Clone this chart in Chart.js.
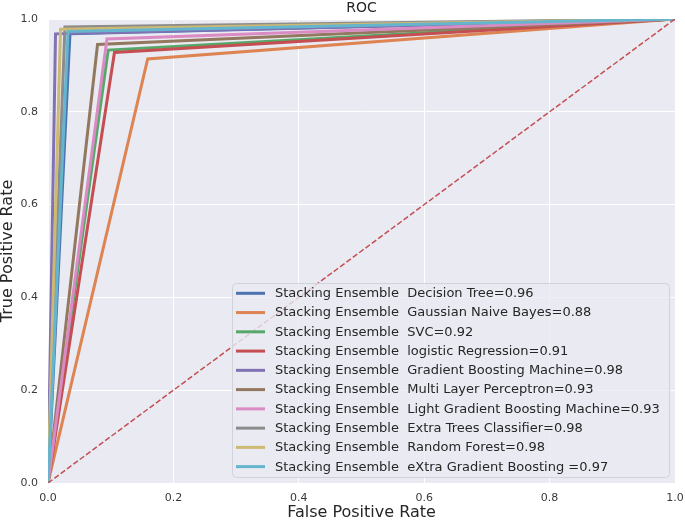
<!DOCTYPE html>
<html>
<head>
<meta charset="utf-8">
<script src="https://cdn.jsdelivr.net/npm/chart.js@4.4.1/dist/chart.umd.min.js"></script>
<style>
  html, body { margin: 0; padding: 0; background: #ffffff; }
  #wrap { width: 685px; height: 524px; }
</style>
</head>
<body>
<div id="wrap"><canvas id="c" width="685" height="524"></canvas></div>
<script>
// ---- data ----
const seriesLabels = [
  "Stacking Ensemble  Decision Tree=0.96",
  "Stacking Ensemble  Gaussian Naive Bayes=0.88",
  "Stacking Ensemble  SVC=0.92",
  "Stacking Ensemble  logistic Regression=0.91",
  "Stacking Ensemble  Gradient Boosting Machine=0.98",
  "Stacking Ensemble  Multi Layer Perceptron=0.93",
  "Stacking Ensemble  Light Gradient Boosting Machine=0.93",
  "Stacking Ensemble  Extra Trees Classifier=0.98",
  "Stacking Ensemble  Random Forest=0.98",
  "Stacking Ensemble  eXtra Gradient Boosting =0.97"
];
// each ROC curve: (0,0) -> (fpr,tpr) -> (1,1)
const curveFpr = [
  [0, 0.035, 1],
  [0, 0.159, 1],
  [0, 0.096, 1],
  [0, 0.106, 1],
  [0, 0.012, 1],
  [0, 0.079, 1],
  [0, 0.094, 1],
  [0, 0.027, 1],
  [0, 0.020, 1],
  [0, 0.032, 1]
];
const curveTpr = [
  [0, 0.968, 1],
  [0, 0.914, 1],
  [0, 0.933, 1],
  [0, 0.928, 1],
  [0, 0.968, 1],
  [0, 0.945, 1],
  [0, 0.957, 1],
  [0, 0.983, 1],
  [0, 0.978, 1],
  [0, 0.973, 1]
];
const diagX = [0, 1];
const diagY = [0, 1];
const xTicks = [0, 0.2, 0.4, 0.6, 0.8, 1.0];
const yTicks = [0, 0.2, 0.4, 0.6, 0.8, 1.0];

// ---- styles ----
const palette = ["#4C72B0", "#DD8452", "#55A868", "#C44E52", "#8172B3",
                 "#937860", "#DA8BC3", "#8C8C8C", "#CCB974", "#64B5CD"];
const FONT = "'DejaVu Sans', sans-serif";

const datasets = seriesLabels.map((lab, i) => ({
  label: lab,
  data: curveFpr[i].map((x, k) => ({ x: x, y: curveTpr[i][k] })),
  borderColor: palette[i],
  backgroundColor: palette[i],
  borderWidth: 3,
  pointRadius: 0,
  showLine: true,
  fill: false,
  tension: 0,
  order: -i
}));
datasets.push({
  label: "_diag",
  data: diagX.map((x, k) => ({ x: x, y: diagY[k] })),
  borderColor: "#C44E52",
  borderWidth: 1.5,
  borderDash: [5.5, 2.4],
  pointRadius: 0,
  showLine: true,
  fill: false,
  order: -20
});

const bgPlugin = {
  id: "bg",
  beforeDraw(chart) {
    const { ctx, chartArea: a } = chart;
    ctx.save();
    ctx.fillStyle = "#EAEAF2";
    ctx.fillRect(a.left, a.top, a.right - a.left, a.bottom - a.top);
    ctx.restore();
  }
};

const legendPlugin = {
  id: "innerLegend",
  afterDraw(chart) {
    const { ctx } = chart;
    const items = chart.data.datasets.filter(d => !d.label.startsWith("_"));
    const x0 = 232, y0 = 283, w = 437, rowH = 19.26;
    const h = 194;
    ctx.save();
    ctx.beginPath();
    if (ctx.roundRect) ctx.roundRect(x0 + 0.5, y0 + 0.5, w, h, 4);
    else ctx.rect(x0 + 0.5, y0 + 0.5, w, h);
    ctx.fillStyle = "rgba(234,234,242,0.8)";
    ctx.fill();
    ctx.strokeStyle = "#d2d2da";
    ctx.lineWidth = 1;
    ctx.stroke();
    ctx.font = "13px " + FONT;
    ctx.textBaseline = "middle";
    ctx.textAlign = "left";
    items.forEach((d, i) => {
      const yc = 293.3 + i * rowH;
      ctx.beginPath();
      ctx.strokeStyle = d.borderColor;
      ctx.lineWidth = 3;
      ctx.moveTo(236, yc);
      ctx.lineTo(265, yc);
      ctx.stroke();
      ctx.fillStyle = "#262626";
      ctx.fillText(d.label, 275, yc + 0.5);
    });
    ctx.restore();
  }
};

new Chart(document.getElementById("c"), {
  type: "scatter",
  data: { datasets: datasets },
  plugins: [bgPlugin, legendPlugin],
  options: {
    responsive: false,
    animation: false,
    events: [],
    layout: { padding: { left: 0, right: 0, top: 0, bottom: 0 } },
    plugins: {
      legend: { display: false },
      tooltip: { enabled: false },
      title: {
        display: true,
        fullSize: false,
        text: "ROC",
        color: "#262626",
        font: { family: FONT, size: 14, lineHeight: "17px", weight: "normal" },
        padding: { top: 0, bottom: 2 }
      }
    },
    scales: {
      x: {
        type: "linear",
        min: 0, max: 1,
        afterBuildTicks(s) { s.ticks = xTicks.map(v => ({ value: v })); },
        afterFit(s) { s.height = 41; s.paddingRight = 10; s.paddingLeft = 0; },
        grid: { color: "#ffffff", lineWidth: 1, drawTicks: false },
        border: { display: false },
        ticks: {
          padding: 9,
          color: "#3a3a3a",
          font: { family: FONT, size: 11 },
          callback: v => Number(v).toFixed(1)
        },
        title: {
          display: true,
          text: "False Positive Rate",
          color: "#262626",
          font: { family: FONT, size: 16, lineHeight: 1.2 },
          padding: { top: 0, bottom: 2 }
        }
      },
      y: {
        type: "linear",
        min: 0, max: 1,
        afterBuildTicks(s) { s.ticks = yTicks.map(v => ({ value: v })); },
        afterFit(s) { s.width = 48; },
        grid: { color: "#ffffff", lineWidth: 1, drawTicks: false },
        border: { display: false },
        ticks: {
          padding: 10,
          color: "#3a3a3a",
          font: { family: FONT, size: 11 },
          callback: v => Number(v).toFixed(1)
        },
        title: {
          display: true,
          text: "True Positive Rate",
          color: "#262626",
          font: { family: FONT, size: 16, lineHeight: "16px" },
          padding: { top: 0, bottom: 0 }
        }
      }
    }
  }
});
</script>
</body>
</html>
